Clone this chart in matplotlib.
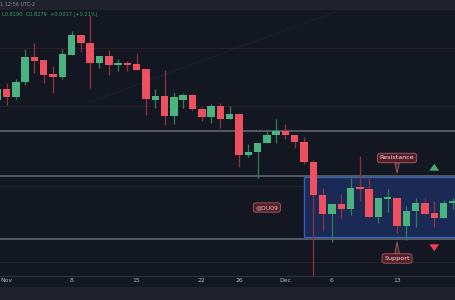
import numpy as np
import matplotlib.pyplot as plt
from matplotlib.patches import Rectangle


# day index, 0 = Nov 1 (first candle is Oct 31, last is Dec 19)
day = np.arange(-1, 49)

open_ = [0.931, 0.942, 0.934, 0.949, 0.974, 0.971, 0.957, 0.954, 0.976, 0.996,
         0.988, 0.968, 0.975, 0.966, 0.967, 0.967, 0.962, 0.931, 0.935, 0.915,
         0.931, 0.936, 0.922, 0.914, 0.925, 0.912, 0.917, 0.876, 0.879, 0.888,
         0.896, 0.900, 0.896, 0.889, 0.869, 0.836, 0.817, 0.827, 0.822, 0.843,
         0.842, 0.814, 0.832, 0.833, 0.805, 0.820, 0.828, 0.818, 0.813, 0.828]
high = [0.946, 0.948, 0.952, 0.982, 0.988, 0.971, 0.965, 0.982, 1.000, 0.996,
        1.016, 0.975, 0.981, 0.972, 0.970, 0.977, 0.962, 0.942, 0.961, 0.939,
        0.938, 0.937, 0.924, 0.927, 0.928, 0.925, 0.918, 0.887, 0.888, 0.900,
        0.912, 0.907, 0.896, 0.894, 0.871, 0.843, 0.827, 0.837, 0.853, 0.875,
        0.853, 0.833, 0.842, 0.833, 0.825, 0.833, 0.833, 0.830, 0.831, 0.833]
low = [0.929, 0.926, 0.932, 0.946, 0.958, 0.948, 0.938, 0.952, 0.976, 0.979,
       0.943, 0.963, 0.956, 0.960, 0.960, 0.961, 0.916, 0.923, 0.906, 0.907,
       0.923, 0.921, 0.910, 0.908, 0.903, 0.912, 0.864, 0.874, 0.853, 0.888,
       0.888, 0.892, 0.883, 0.867, 0.755, 0.800, 0.789, 0.813, 0.816, 0.830,
       0.814, 0.808, 0.819, 0.798, 0.791, 0.804, 0.817, 0.804, 0.813, 0.822]
close = [0.942, 0.934, 0.949, 0.974, 0.970, 0.956, 0.954, 0.977, 0.996, 0.988,
         0.968, 0.975, 0.966, 0.967, 0.966, 0.961, 0.932, 0.935, 0.915, 0.934,
         0.936, 0.922, 0.914, 0.925, 0.912, 0.917, 0.876, 0.879, 0.888, 0.896,
         0.900, 0.896, 0.889, 0.869, 0.836, 0.817, 0.827, 0.822, 0.843, 0.842,
         0.814, 0.833, 0.833, 0.805, 0.820, 0.828, 0.817, 0.813, 0.828, 0.829]

tick_days = [0, 7, 14, 21, 25, 30, 35, 42]
tick_labels = ['Nov', '8', '15', '22', '26', 'Dec', '6', '13']

levels = [0.900, 0.855, 0.7925]          # drawn horizontal lines
faint_levels = [0.983, 0.925, 0.845, 0.769]
range_box = (32, 0.794, 0.854)           # start day, bottom, top
resistance_pt = (42, 0.858)
support_pt = (42, 0.789)

BG = '#131722'
BAR = '#1f222c'
GREEN = '#4bb37f'
RED = '#ef5060'

fig = plt.figure(figsize=(4.55, 3.0), dpi=100, facecolor=BG)
ax = fig.add_axes([0, 24 / 300, 1, 266 / 300])
ax.set_facecolor(BG)

# top and bottom bars of the terminal
fig.patches.append(Rectangle((0, 290 / 300), 1, 10 / 300, transform=fig.transFigure,
                             facecolor=BAR, edgecolor='none', zorder=0))
fig.patches.append(Rectangle((0, 0), 1, 13 / 300, transform=fig.transFigure,
                             facecolor=BAR, edgecolor='none', zorder=0))
fig.text(0.0, 295 / 300, '1 12:56 UTC-2', color='#8a8d96', fontsize=3.6, va='center')

# faint background levels and trend line
for lv in faint_levels:
    ax.axhline(lv, color='#2e2226', lw=0.6, zorder=0)
ax.plot([9.0, 35.3], [0.929, 1.019], color='#2c2f3a', lw=0.7, ls=(0, (1, 2)), zorder=0)

# range box
x0, b0, t0 = range_box
ax.add_patch(Rectangle((x0, b0), 60, t0 - b0, facecolor='#1b2a55', edgecolor='#2f62bb',
                       lw=1.0, zorder=1))

for lv in levels:
    ax.axhline(lv, color='#5b5e69', lw=1.3, zorder=1.5)

# candles
o = np.array(open_)
c = np.array(close)
up = c >= o
body_col = np.where(up, GREEN, RED)
wick_col = np.where(up, '#2f7d5c', '#92303d')
ax.vlines(day, low, high, colors=wick_col, lw=0.9, zorder=2)
bottom = np.minimum(o, c)
height = np.maximum(np.abs(c - o), 0.0017)
ax.bar(day, height, bottom=bottom, width=0.8, color=body_col, edgecolor='none', zorder=3)

# callouts
box_style = dict(boxstyle='round,pad=0.35,rounding_size=0.4', fc='#5a1b23', ec='#9b6570', lw=0.6)
pointer = dict(arrowstyle='wedge,tail_width=0.7,shrink_factor=0.5', fc='#5a1b23',
               ec='#9b6570', lw=0.6, shrinkA=0, shrinkB=0)
ax.annotate('Resistance', xy=resistance_pt, xytext=(42, 0.873), ha='center', va='center',
            color='#e8e8ea', fontsize=4.6, bbox=box_style, arrowprops=pointer)
ax.annotate('Support', xy=support_pt, xytext=(42, 0.7725), ha='center', va='center',
            color='#e8e8ea', fontsize=4.6, bbox=box_style, arrowprops=pointer)
ax.text(28, 0.8235, '@DU09', ha='center', va='center', color='#d8d0d2', fontsize=4.4,
        bbox=box_style)

ax.annotate('', xy=(46, 0.870), xytext=(46, 0.861),
            arrowprops=dict(arrowstyle='simple,head_width=0.7,head_length=0.5,tail_width=0.3',
                            fc='#3fae6a', ec='none'))
ax.annotate('', xy=(46, 0.777), xytext=(46, 0.786),
            arrowprops=dict(arrowstyle='simple,head_width=0.7,head_length=0.5,tail_width=0.3',
                            fc='#ef4055', ec='none'))

ax.text(-0.45, 1.016, 'L0.8190  C0.8279  +0.0017 (+0.21%)', color='#3c9c6c',
        fontsize=3.6, va='center')

ax.set_xlim(-0.7, 48.23)
ax.set_ylim(0.755, 1.021)
ax.set_xticks(tick_days)
ax.set_xticklabels(tick_labels)
ax.tick_params(axis='x', length=0, pad=1.5, labelsize=4.4, labelcolor='#b2b5be')
ax.set_yticks([])
for side in ['top', 'left', 'right']:
    ax.spines[side].set_visible(False)
ax.spines['bottom'].set_color('#2a2e39')
ax.spines['bottom'].set_linewidth(1.0)

fig.savefig('out.png', dpi=100, facecolor=BG)
